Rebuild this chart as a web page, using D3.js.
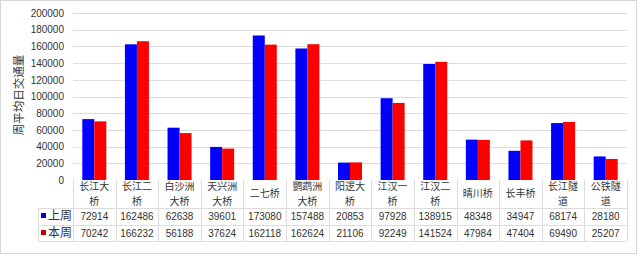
<!DOCTYPE html>
<html>
<head>
<meta charset="utf-8">
<script src="https://d3js.org/d3.v7.min.js"></script>
<style>
  body { margin: 0; background: #fff; }
  svg { display: block; }
</style>
</head>
<body>
<div id="chart"></div>
<script>
    // categories (bridges) and two weekly series
    var categories = ["长江大桥", "长江二桥", "白沙洲大桥", "天兴洲大桥", "二七桥", "鹦鹉洲大桥", "阳逻大桥",
        "江汉一桥", "江汉二桥", "晴川桥", "长丰桥", "长江隧道", "公铁隧道"];
    var labelLines = [["长江大", "桥"], ["长江二", "桥"], ["白沙洲", "大桥"], ["天兴洲", "大桥"], ["二七桥"],
        ["鹦鹉洲", "大桥"], ["阳逻大", "桥"], ["江汉一", "桥"], ["江汉二", "桥"], ["晴川桥"], ["长丰桥"],
        ["长江隧", "道"], ["公铁隧", "道"]];
    var seriesNames = ["上周", "本周"];
    var lastWeek = [72914, 162486, 62638, 39601, 173080, 157488, 20853, 97928, 138915, 48348, 34947, 68174, 28180];
    var thisWeek = [70242, 166232, 56188, 37624, 162118, 162624, 21106, 92249, 141524, 47984, 47404, 69490, 25207];
    var yTicks = [0, 20000, 40000, 60000, 80000, 100000, 120000, 140000, 160000, 180000, 200000];
    var colors = ["#0000ff", "#ff0000"];

    var width = 640, height = 256;
    var plotLeft = 73, plotRight = 627, plotTop = 13, plotBottom = 180;
    var tableLeft = 38, row1 = 208, row2 = 225, row3 = 241;

    var svg = d3.select("#chart").append("svg")
        .attr("width", width)
        .attr("height", height);

    // frame
    svg.append("rect")
        .attr("x", 0.5).attr("y", 0.5)
        .attr("width", width - 4).attr("height", height - 3)
        .attr("fill", "none").attr("stroke", "#d8d8d8");

    var x = d3.scaleBand().domain(categories).range([plotLeft, plotRight]);
    var x1 = d3.scaleBand().domain(seriesNames)
        .range([x.bandwidth() / 2 - 12, x.bandwidth() / 2 + 12]);
    var y = d3.scaleLinear().domain([0, 200000]).range([plotBottom, plotTop]);

    // gridlines
    svg.append("g").selectAll("line")
        .data(yTicks.slice(1))
        .enter().append("line")
        .attr("x1", plotLeft).attr("x2", plotRight)
        .attr("y1", d => Math.round(y(d)) + 0.5)
        .attr("y2", d => Math.round(y(d)) + 0.5)
        .attr("stroke", "#dcdcdc");

    // y axis labels
    var yAxis = d3.axisLeft(y).tickValues(yTicks).tickSize(0).tickPadding(9).tickFormat(d3.format("d"));
    var ya = svg.append("g").attr("transform", "translate(" + plotLeft + ",0)").call(yAxis);
    ya.select(".domain").remove();
    ya.selectAll("text")
        .attr("fill", "#333")
        .style("font-family", "'Liberation Sans', Arial, sans-serif")
        .style("font-size", "10px");

    svg.append("text")
        .attr("transform", "translate(23,95) rotate(-90)")
        .attr("text-anchor", "middle")
        .attr("fill", "#333")
        .style("font-family", "'Noto Sans CJK SC', sans-serif")
        .style("font-size", "11.5px")
        .text("周平均日交通量");

    // bars
    var series = [lastWeek, thisWeek];
    var groups = svg.append("g").selectAll("g")
        .data(categories)
        .enter().append("g")
        .attr("transform", d => "translate(" + x(d) + ",0)");
    groups.selectAll("rect")
        .data((d, i) => seriesNames.map((s, j) => ({ s: s, v: series[j][i], c: colors[j] })))
        .enter().append("rect")
        .attr("x", d => x1(d.s))
        .attr("width", x1.bandwidth())
        .attr("y", d => y(d.v))
        .attr("height", d => plotBottom - y(d.v))
        .attr("fill", d => d.c);

    // data table
    var grid = svg.append("g").attr("stroke", "#dcdcdc");
    grid.selectAll("line.h")
        .data([row1, row2, row3])
        .enter().append("line")
        .attr("x1", tableLeft).attr("x2", plotRight)
        .attr("y1", d => d + 0.5).attr("y2", d => d + 0.5);
    grid.selectAll("line.v")
        .data(categories.map(c => x(c)).concat([plotRight]))
        .enter().append("line")
        .attr("x1", d => Math.round(d) + 0.5).attr("x2", d => Math.round(d) + 0.5)
        .attr("y1", plotBottom).attr("y2", row3);
    grid.append("line")
        .attr("x1", tableLeft + 0.5).attr("x2", tableLeft + 0.5)
        .attr("y1", row1).attr("y2", row3);

    // category labels, one text per line
    var cat = svg.append("g")
        .style("font-family", "'Noto Sans CJK SC', sans-serif")
        .style("font-size", "10px")
        .attr("fill", "#333")
        .attr("text-anchor", "middle");
    categories.forEach(function (c, i) {
        var lines = labelLines[i];
        lines.forEach(function (line, k) {
            cat.append("text")
                .attr("x", x(c) + x.bandwidth() / 2)
                .attr("y", lines.length > 1 ? 190 + k * 14.5 : 197)
                .text(line);
        });
    });

    // value rows
    var rows = [row1, row2];
    seriesNames.forEach(function (name, j) {
        var cy = rows[j] + 12;
        svg.append("rect")
            .attr("x", 41).attr("y", cy - 7)
            .attr("width", 5).attr("height", 5)
            .attr("fill", j === 0 ? "#0000c0" : "#c00000");
        svg.append("text")
            .attr("x", 48).attr("y", cy)
            .attr("fill", "#333")
            .style("font-family", "'Noto Sans CJK SC', sans-serif")
            .style("font-size", "12px")
            .text(name);
        svg.append("g").selectAll("text")
            .data(series[j])
            .enter().append("text")
            .attr("x", (d, i) => x(categories[i]) + x.bandwidth() / 2)
            .attr("y", cy)
            .attr("text-anchor", "middle")
            .attr("fill", "#333")
            .style("font-family", "'Liberation Sans', Arial, sans-serif")
            .style("font-size", "10px")
            .text(d => d);
    });
</script>
</body>
</html>
